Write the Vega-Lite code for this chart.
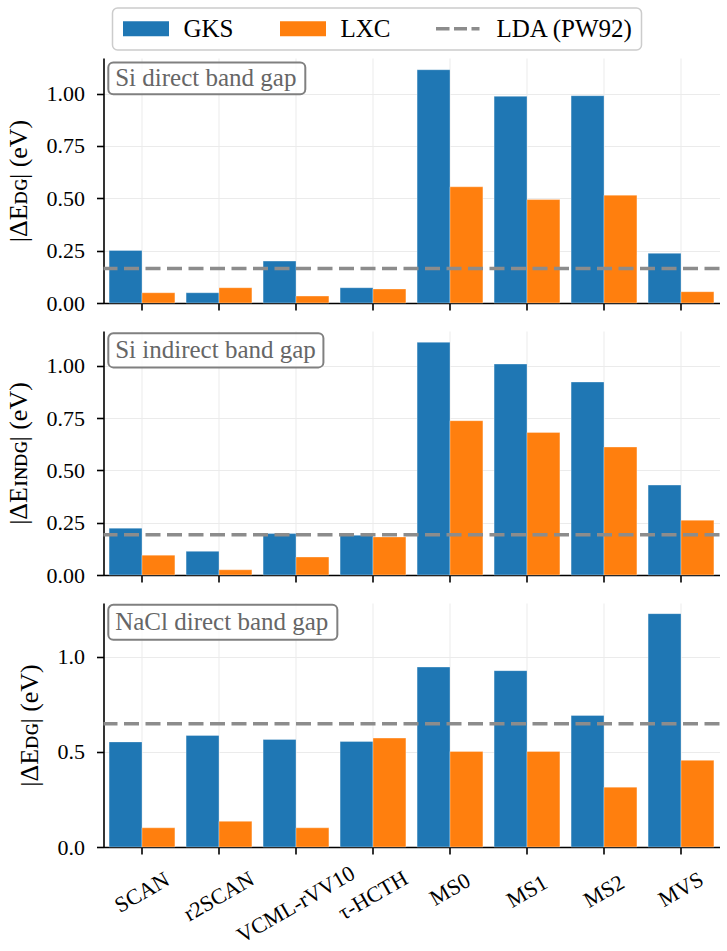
{
  "$schema": "https://vega.github.io/schema/vega-lite/v6.json",
  "padding": {"left": 4.5, "top": 7, "right": 0, "bottom": 4},
  "bounds": "flush",
  "spacing": 28,
  "datasets": {
    "gaps": [
      {"panel": "si_dg", "functional": "SCAN", "series": "GKS", "value": 0.251},
      {"panel": "si_dg", "functional": "SCAN", "series": "LXC", "value": 0.049},
      {"panel": "si_dg", "functional": "r2SCAN", "series": "GKS", "value": 0.049},
      {"panel": "si_dg", "functional": "r2SCAN", "series": "LXC", "value": 0.073},
      {"panel": "si_dg", "functional": "VCML-rVV10", "series": "GKS", "value": 0.200},
      {"panel": "si_dg", "functional": "VCML-rVV10", "series": "LXC", "value": 0.033},
      {"panel": "si_dg", "functional": "τ-HCTH", "series": "GKS", "value": 0.073},
      {"panel": "si_dg", "functional": "τ-HCTH", "series": "LXC", "value": 0.067},
      {"panel": "si_dg", "functional": "MS0", "series": "GKS", "value": 1.114},
      {"panel": "si_dg", "functional": "MS0", "series": "LXC", "value": 0.555},
      {"panel": "si_dg", "functional": "MS1", "series": "GKS", "value": 0.987},
      {"panel": "si_dg", "functional": "MS1", "series": "LXC", "value": 0.494},
      {"panel": "si_dg", "functional": "MS2", "series": "GKS", "value": 0.990},
      {"panel": "si_dg", "functional": "MS2", "series": "LXC", "value": 0.515},
      {"panel": "si_dg", "functional": "MVS", "series": "GKS", "value": 0.237},
      {"panel": "si_dg", "functional": "MVS", "series": "LXC", "value": 0.054},
      {"panel": "si_idg", "functional": "SCAN", "series": "GKS", "value": 0.224},
      {"panel": "si_idg", "functional": "SCAN", "series": "LXC", "value": 0.095},
      {"panel": "si_idg", "functional": "r2SCAN", "series": "GKS", "value": 0.113},
      {"panel": "si_idg", "functional": "r2SCAN", "series": "LXC", "value": 0.025},
      {"panel": "si_idg", "functional": "VCML-rVV10", "series": "GKS", "value": 0.198},
      {"panel": "si_idg", "functional": "VCML-rVV10", "series": "LXC", "value": 0.086},
      {"panel": "si_idg", "functional": "τ-HCTH", "series": "GKS", "value": 0.190},
      {"panel": "si_idg", "functional": "τ-HCTH", "series": "LXC", "value": 0.182},
      {"panel": "si_idg", "functional": "MS0", "series": "GKS", "value": 1.113},
      {"panel": "si_idg", "functional": "MS0", "series": "LXC", "value": 0.738},
      {"panel": "si_idg", "functional": "MS1", "series": "GKS", "value": 1.009},
      {"panel": "si_idg", "functional": "MS1", "series": "LXC", "value": 0.682},
      {"panel": "si_idg", "functional": "MS2", "series": "GKS", "value": 0.923},
      {"panel": "si_idg", "functional": "MS2", "series": "LXC", "value": 0.612},
      {"panel": "si_idg", "functional": "MVS", "series": "GKS", "value": 0.430},
      {"panel": "si_idg", "functional": "MVS", "series": "LXC", "value": 0.262},
      {"panel": "nacl_dg", "functional": "SCAN", "series": "GKS", "value": 0.553},
      {"panel": "nacl_dg", "functional": "SCAN", "series": "LXC", "value": 0.101},
      {"panel": "nacl_dg", "functional": "r2SCAN", "series": "GKS", "value": 0.587},
      {"panel": "nacl_dg", "functional": "r2SCAN", "series": "LXC", "value": 0.135},
      {"panel": "nacl_dg", "functional": "VCML-rVV10", "series": "GKS", "value": 0.566},
      {"panel": "nacl_dg", "functional": "VCML-rVV10", "series": "LXC", "value": 0.101},
      {"panel": "nacl_dg", "functional": "τ-HCTH", "series": "GKS", "value": 0.555},
      {"panel": "nacl_dg", "functional": "τ-HCTH", "series": "LXC", "value": 0.573},
      {"panel": "nacl_dg", "functional": "MS0", "series": "GKS", "value": 0.947},
      {"panel": "nacl_dg", "functional": "MS0", "series": "LXC", "value": 0.503},
      {"panel": "nacl_dg", "functional": "MS1", "series": "GKS", "value": 0.928},
      {"panel": "nacl_dg", "functional": "MS1", "series": "LXC", "value": 0.503},
      {"panel": "nacl_dg", "functional": "MS2", "series": "GKS", "value": 0.692},
      {"panel": "nacl_dg", "functional": "MS2", "series": "LXC", "value": 0.315},
      {"panel": "nacl_dg", "functional": "MVS", "series": "GKS", "value": 1.228},
      {"panel": "nacl_dg", "functional": "MVS", "series": "LXC", "value": 0.456}
    ],
    "lda": [
      {"panel": "si_dg", "series": "LDA (PW92)", "value": 0.165},
      {"panel": "si_idg", "series": "LDA (PW92)", "value": 0.193},
      {"panel": "nacl_dg", "series": "LDA (PW92)", "value": 0.648}
    ],
    "notes": [
      {"panel": "si_dg", "text": "Si direct band gap"},
      {"panel": "si_idg", "text": "Si indirect band gap"},
      {"panel": "nacl_dg", "text": "NaCl direct band gap"}
    ]
  },
  "vconcat": [
    {
      "width": 616,
      "height": 245,
      "layer": [
        {
          "data": {"name": "gaps"},
          "transform": [{"filter": "datum.panel === 'si_dg'"}],
          "mark": {"type": "bar", "stroke": "white", "strokeWidth": 0.8, "strokeOpacity": 0.4},
          "encoding": {
            "x": {"field": "functional", "type": "nominal", "sort": ["SCAN", "r2SCAN", "VCML-rVV10", "τ-HCTH", "MS0", "MS1", "MS2", "MVS"], "scale": {"paddingInner": 0.145, "paddingOuter": 0.0725}, "axis": {"title": null, "labels": false, "grid": true}},
            "xOffset": {"field": "series", "type": "nominal", "sort": ["GKS", "LXC"], "scale": {"paddingInner": 0, "paddingOuter": 0}},
            "y": {"field": "value", "type": "quantitative", "scale": {"domain": [0, 1.17], "nice": false}, "axis": {"title": "|ΔEᴅɢ| (eV)", "values": [0, 0.25, 0.5, 0.75, 1], "format": ".2f", "grid": true}},
            "color": {"field": "series", "type": "nominal", "scale": {"domain": ["GKS", "LXC", "LDA (PW92)"], "range": ["#1f77b4", "#ff7f0e", "#8c8c8c"]},
              "legend": {"orient": "none", "legendX": 9, "legendY": -50, "direction": "horizontal", "columns": 3, "title": null,
                "encoding": {"symbols": {
                  "shape": {"value": {"expr": "datum.value === 'LDA (PW92)' ? 'M-2.3,-0.18H-0.95V0.18H-2.3Z M-0.5,-0.18H0.8V0.18H-0.5Z M1.25,-0.18H2.05V0.18H1.25Z' : 'M-2.3,-0.75H2.3V0.75H-2.3Z'"}},
                  "fill": {"value": {"expr": "scale('color', datum.value)"}},
                  "stroke": {"value": "transparent"},
                  "strokeWidth": {"value": 0},
                  "opacity": {"value": 1}}}}}
          }
        },
        {
          "data": {"name": "lda"},
          "transform": [{"filter": "datum.panel === 'si_dg'"}],
          "mark": {"type": "rule", "strokeDash": [15, 6.5], "strokeWidth": 3.5},
          "encoding": {
            "y": {"field": "value", "type": "quantitative"},
            "color": {"field": "series", "type": "nominal", "scale": {"domain": ["GKS", "LXC", "LDA (PW92)"], "range": ["#1f77b4", "#ff7f0e", "#8c8c8c"]}}
          }
        },
        {
          "data": {"name": "notes"},
          "transform": [{"filter": "datum.panel === 'si_dg'"}],
          "layer": [
            {
              "mark": {"type": "rect", "fill": "white", "fillOpacity": 0.8, "stroke": "#808080", "strokeWidth": 2, "cornerRadius": 5},
              "encoding": {
                "x": {"datum": 0.0078, "type": "quantitative", "scale": {"domain": [0, 1]}, "axis": null},
                "x2": {"datum": 0.3276},
                "y": {"datum": 1.149, "type": "quantitative"},
                "y2": {"datum": 0.997}
              }
            },
            {
              "mark": {"type": "text", "align": "left", "baseline": "middle", "font": "Liberation Serif", "fontSize": 25, "color": "#666666"},
              "encoding": {
                "x": {"datum": 0.019, "type": "quantitative", "scale": {"domain": [0, 1]}, "axis": null},
                "y": {"datum": 1.073, "type": "quantitative"},
                "text": {"field": "text"}
              }
            }
          ]
        }
      ],
      "resolve": {"scale": {"x": "independent"}}
    },
    {
      "width": 616,
      "height": 244,
      "layer": [
        {
          "data": {"name": "gaps"},
          "transform": [{"filter": "datum.panel === 'si_idg'"}],
          "mark": {"type": "bar", "stroke": "white", "strokeWidth": 0.8, "strokeOpacity": 0.4},
          "encoding": {
            "x": {"field": "functional", "type": "nominal", "sort": ["SCAN", "r2SCAN", "VCML-rVV10", "τ-HCTH", "MS0", "MS1", "MS2", "MVS"], "scale": {"paddingInner": 0.145, "paddingOuter": 0.0725}, "axis": {"title": null, "labels": false, "grid": true}},
            "xOffset": {"field": "series", "type": "nominal", "sort": ["GKS", "LXC"], "scale": {"paddingInner": 0, "paddingOuter": 0}},
            "y": {"field": "value", "type": "quantitative", "scale": {"domain": [0, 1.167], "nice": false}, "axis": {"title": "|ΔEɪɴᴅɢ| (eV)", "values": [0, 0.25, 0.5, 0.75, 1], "format": ".2f", "grid": true}},
            "color": {"field": "series", "type": "nominal", "scale": {"domain": ["GKS", "LXC", "LDA (PW92)"], "range": ["#1f77b4", "#ff7f0e", "#8c8c8c"]}}
          }
        },
        {
          "data": {"name": "lda"},
          "transform": [{"filter": "datum.panel === 'si_idg'"}],
          "mark": {"type": "rule", "strokeDash": [15, 6.5], "strokeWidth": 3.5},
          "encoding": {
            "y": {"field": "value", "type": "quantitative"},
            "color": {"field": "series", "type": "nominal", "scale": {"domain": ["GKS", "LXC", "LDA (PW92)"], "range": ["#1f77b4", "#ff7f0e", "#8c8c8c"]}}
          }
        },
        {
          "data": {"name": "notes"},
          "transform": [{"filter": "datum.panel === 'si_idg'"}],
          "layer": [
            {
              "mark": {"type": "rect", "fill": "white", "fillOpacity": 0.8, "stroke": "#808080", "strokeWidth": 2, "cornerRadius": 5},
              "encoding": {
                "x": {"datum": 0.0078, "type": "quantitative", "scale": {"domain": [0, 1]}, "axis": null},
                "x2": {"datum": 0.357},
                "y": {"datum": 1.156, "type": "quantitative"},
                "y2": {"datum": 0.993}
              }
            },
            {
              "mark": {"type": "text", "align": "left", "baseline": "middle", "font": "Liberation Serif", "fontSize": 25, "color": "#666666"},
              "encoding": {
                "x": {"datum": 0.019, "type": "quantitative", "scale": {"domain": [0, 1]}, "axis": null},
                "y": {"datum": 1.075, "type": "quantitative"},
                "text": {"field": "text"}
              }
            }
          ]
        }
      ],
      "resolve": {"scale": {"x": "independent"}}
    },
    {
      "width": 616,
      "height": 244,
      "layer": [
        {
          "data": {"name": "gaps"},
          "transform": [{"filter": "datum.panel === 'nacl_dg'"}],
          "mark": {"type": "bar", "stroke": "white", "strokeWidth": 0.8, "strokeOpacity": 0.4},
          "encoding": {
            "x": {"field": "functional", "type": "nominal", "sort": ["SCAN", "r2SCAN", "VCML-rVV10", "τ-HCTH", "MS0", "MS1", "MS2", "MVS"], "scale": {"paddingInner": 0.145, "paddingOuter": 0.0725},
              "axis": {"title": null, "grid": true, "labelAngle": -30, "labelAlign": "center", "labelBaseline": "middle", "labelPadding": 35, "labelOverlap": false,
                "encoding": {"labels": {
                  "dx": {"value": {"expr": "-0.5*(datum.value === 'VCML-rVV10' ? 15 : datum.value === 'r2SCAN' ? 7 : datum.value === 'τ-HCTH' ? 6 : datum.value === 'SCAN' ? 3 : (datum.value === 'MS1' || datum.value === 'MS2') ? 2 : 0)"}},
                  "dy": {"value": {"expr": "0.866*(datum.value === 'VCML-rVV10' ? 15 : datum.value === 'r2SCAN' ? 7 : datum.value === 'τ-HCTH' ? 6 : datum.value === 'SCAN' ? 3 : (datum.value === 'MS1' || datum.value === 'MS2') ? 2 : 0)"}}}}}},
            "xOffset": {"field": "series", "type": "nominal", "sort": ["GKS", "LXC"], "scale": {"paddingInner": 0, "paddingOuter": 0}},
            "y": {"field": "value", "type": "quantitative", "scale": {"domain": [0, 1.284], "nice": false}, "axis": {"title": "|ΔEᴅɢ| (eV)", "values": [0, 0.5, 1], "format": ".1f", "grid": true}},
            "color": {"field": "series", "type": "nominal", "scale": {"domain": ["GKS", "LXC", "LDA (PW92)"], "range": ["#1f77b4", "#ff7f0e", "#8c8c8c"]}}
          }
        },
        {
          "data": {"name": "lda"},
          "transform": [{"filter": "datum.panel === 'nacl_dg'"}],
          "mark": {"type": "rule", "strokeDash": [15, 6.5], "strokeWidth": 3.5},
          "encoding": {
            "y": {"field": "value", "type": "quantitative"},
            "color": {"field": "series", "type": "nominal", "scale": {"domain": ["GKS", "LXC", "LDA (PW92)"], "range": ["#1f77b4", "#ff7f0e", "#8c8c8c"]}}
          }
        },
        {
          "data": {"name": "notes"},
          "transform": [{"filter": "datum.panel === 'nacl_dg'"}],
          "layer": [
            {
              "mark": {"type": "rect", "fill": "white", "fillOpacity": 0.8, "stroke": "#808080", "strokeWidth": 2, "cornerRadius": 5},
              "encoding": {
                "x": {"datum": 0.0078, "type": "quantitative", "scale": {"domain": [0, 1]}, "axis": null},
                "x2": {"datum": 0.3796},
                "y": {"datum": 1.275, "type": "quantitative"},
                "y2": {"datum": 1.091}
              }
            },
            {
              "mark": {"type": "text", "align": "left", "baseline": "middle", "font": "Liberation Serif", "fontSize": 25, "color": "#666666"},
              "encoding": {
                "x": {"datum": 0.019, "type": "quantitative", "scale": {"domain": [0, 1]}, "axis": null},
                "y": {"datum": 1.183, "type": "quantitative"},
                "text": {"field": "text"}
              }
            }
          ]
        }
      ],
      "resolve": {"scale": {"x": "independent"}}
    }
  ],
  "config": {
    "view": {"stroke": null},
    "font": "Liberation Serif",
    "axis": {
      "labelFont": "Liberation Serif", "labelFontSize": 22, "labelColor": "black",
      "titleFont": "Liberation Serif", "titleFontSize": 26, "titleFontWeight": "normal", "titleColor": "black",
      "domainColor": "black", "domainWidth": 1.6, "tickColor": "black", "tickWidth": 1.6, "tickSize": 7,
      "gridColor": "#ebebeb", "gridWidth": 1
    },
    "axisY": {"labelPadding": 12, "titlePadding": 15},
    "legend": {
      "labelFont": "Liberation Serif", "labelFontSize": 25, "labelColor": "black", "labelLimit": 300,
      "symbolSize": 400, "symbolOffset": 13, "labelOffset": 25, "columnPadding": 43, "padding": 8,
      "strokeColor": "#cccccc", "strokeWidth": 1.5, "cornerRadius": 5, "fillColor": "white", "symbolStrokeWidth": 0
    }
  }
}
